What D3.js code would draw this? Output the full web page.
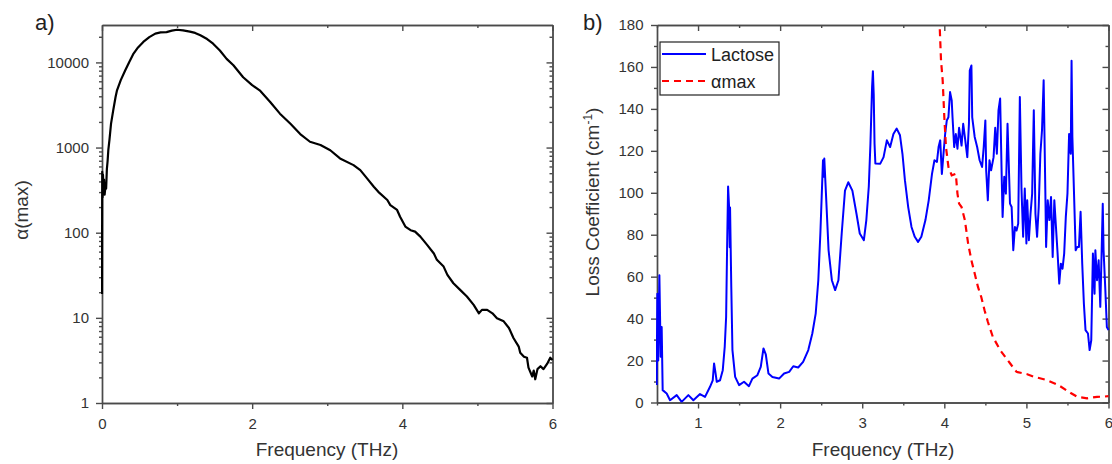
<!DOCTYPE html>
<meta charset="utf-8">
<head>
    <title></title>
    <script src="https://cdnjs.cloudflare.com/ajax/libs/d3/7.8.5/d3.min.js"></script>
</head>

<style>
    body{ margin:0; background:#fff; }
    text{ font-family: Arial, "Liberation Sans", sans-serif; }
</style>
<svg width="1112" height="464"></svg>

<script>
    // ---- panel a) : alpha(max), log scale ----
    var aFreq = [0, 0.003, 0.008, 0.013, 0.02, 0.027, 0.035, 0.045, 0.055, 0.065,
                 0.075, 0.084, 0.1, 0.12, 0.15, 0.18, 0.2, 0.25, 0.31, 0.36,
                 0.42, 0.48, 0.55, 0.63, 0.71, 0.78, 0.86, 0.93, 1.0, 1.08,
                 1.17, 1.24, 1.31, 1.4, 1.48, 1.57, 1.66, 1.75, 1.88, 2.0,
                 2.1, 2.24, 2.37, 2.51, 2.64, 2.77, 2.91, 3.04, 3.17, 3.35,
                 3.44, 3.53, 3.62, 3.68, 3.8, 3.84, 3.93, 3.97, 4.04, 4.11,
                 4.17, 4.24, 4.33, 4.42, 4.46, 4.55, 4.6, 4.68, 4.77, 4.86,
                 4.95, 5.02, 5.06, 5.13, 5.2, 5.26, 5.35, 5.42, 5.48, 5.55,
                 5.57, 5.62, 5.66, 5.68, 5.73, 5.75, 5.77, 5.8, 5.84, 5.88,
                 5.93, 5.97, 6.0];
    var aMax  = [19, 520, 260, 480, 300, 420, 280, 340, 330, 560,
                 700, 930, 1250, 1900, 2750, 3900, 4700, 6200, 8100, 10000,
                 12700, 15000, 17400, 19800, 21800, 22500, 22700, 23600, 24200, 23800,
                 23000, 22200, 20800, 18800, 16600, 13800, 11000, 9250, 6700, 5400,
                 4700, 3435, 2500, 1900, 1440, 1170, 1070, 930, 745, 622,
                 543, 434, 347, 302, 242, 211, 185, 154, 118, 107,
                 103, 90, 72, 57, 48, 40, 32, 25.5, 21.3, 17.8,
                 14.2, 11.3, 12.4, 12.4, 11.3, 9.9, 9.1, 7.6, 5.8, 4.6,
                 3.9, 3.5, 3.4, 2.6, 2.05, 2.4, 1.9, 2.5, 2.7, 2.5,
                 2.9, 3.4, 3.2];
    var aTicksX = [0, 2, 4, 6],
        aMinorX = [1, 3, 5],
        aTicksY = [1, 10, 100, 1000, 10000];

    // ---- panel b) : loss coefficient ----
    var lacFreq = [0.496, 0.504, 0.515, 0.529, 0.545, 0.557, 0.569, 0.618, 0.659, 0.74,
                   0.80, 0.882, 0.943, 1.024, 1.085, 1.146, 1.179, 1.195, 1.211, 1.228,
                   1.268, 1.301, 1.325, 1.342, 1.354, 1.366, 1.378, 1.386, 1.39, 1.405,
                   1.419, 1.452, 1.5, 1.56, 1.62, 1.662, 1.723, 1.764, 1.797, 1.825,
                   1.858, 1.906, 1.987, 2.048, 2.11, 2.16, 2.22, 2.28, 2.343, 2.392,
                   2.433, 2.465, 2.49, 2.506, 2.522, 2.53, 2.538, 2.558, 2.59, 2.63,
                   2.67, 2.71, 2.75, 2.79, 2.83, 2.88, 2.93, 2.97, 3.02, 3.05,
                   3.08, 3.10, 3.12, 3.13, 3.14, 3.15, 3.16, 3.22, 3.26, 3.30,
                   3.34, 3.38, 3.42, 3.46, 3.49, 3.52, 3.56, 3.60, 3.64, 3.68,
                   3.72, 3.77, 3.81, 3.85, 3.88, 3.91, 3.93, 3.95, 3.97, 3.99,
                   4.01, 4.03, 4.05, 4.07, 4.09, 4.10, 4.12, 4.14, 4.16, 4.18,
                   4.21, 4.23, 4.25, 4.28, 4.30, 4.31, 4.33, 4.34, 4.37, 4.40,
                   4.43, 4.46, 4.48, 4.50, 4.51, 4.53, 4.55, 4.57, 4.60, 4.62,
                   4.64, 4.66, 4.68, 4.70, 4.71, 4.73, 4.75, 4.77, 4.80, 4.82,
                   4.84, 4.86, 4.88, 4.90, 4.92, 4.94, 4.96, 4.98, 5.00, 5.01,
                   5.03, 5.05, 5.07, 5.09, 5.11, 5.13, 5.15, 5.17, 5.19, 5.21,
                   5.23, 5.24, 5.26, 5.28, 5.30, 5.32, 5.34, 5.36, 5.38, 5.40,
                   5.42, 5.44, 5.46, 5.48, 5.50, 5.52, 5.54, 5.55, 5.56, 5.58,
                   5.60, 5.62, 5.64, 5.66, 5.68, 5.70, 5.72, 5.75, 5.77, 5.79,
                   5.81, 5.83, 5.84, 5.86, 5.88, 5.90, 5.91, 5.93, 5.94, 5.96,
                   5.98, 6.0];
    var lacLoss = [8.3, 51.9, 20, 60.7, 21.8, 36, 5.9, 4.3, 1.1, 3.5,
                   0.3, 3.5, 1.1, 4, 2.7, 7.5, 10.6, 18.6, 14.6, 9.9,
                   10.6, 15.4, 26.5, 40.8, 74, 103, 93.3, 74, 93, 55,
                   25, 12.2, 8.3, 9.9, 7.8, 11.4, 13, 17, 25.8, 23,
                   13.8, 12.2, 11.4, 13.8, 14.6, 17.3, 16.7, 19.4, 25, 32.9,
                   42.4, 58.3, 80.6, 98, 115.5, 107.6, 116.3, 99.7, 72.6, 58.3,
                   53.6, 58.3, 80.6, 101, 105, 101, 90, 80.6, 77.4, 87,
                   103, 123.4, 150.4, 158, 147, 123.4, 114, 113.9, 117, 125,
                   121.8, 128, 130.6, 127.4, 118.6, 106, 93.2, 83.7, 79, 76.6,
                   79, 87, 96.4, 109, 115.5, 114.7, 121.8, 125, 109, 118.6,
                   128, 134.5, 136, 148, 144, 136, 121.8, 128, 121, 131,
                   122.5, 132.9, 126.6, 117, 132.9, 158.3, 160.7, 136, 126.6, 121.8,
                   115.5, 112.3, 121.8, 134.5, 110.7, 96.4, 115.5, 110.7, 117, 131,
                   118.6, 139.3, 144.9, 106, 88.5, 107.6, 99.6, 132.9, 94.8, 93.2,
                   72.6, 83.7, 82, 85.3, 145.7, 102, 79, 102, 75.8, 96.4,
                   77.4, 90, 99.6, 139.3, 90, 79, 93.2, 118.6, 129.8, 153.6,
                   102, 74.2, 96.4, 87, 98, 69.4, 96.4, 83.7, 71, 56.7,
                   66.2, 63.8, 71, 88.5, 99.6, 128, 118.6, 163, 126.6, 99.6,
                   72.6, 74.2, 74.2, 90.9, 66.2, 47.2, 34.5, 32.9, 25, 29.7,
                   71, 51.9, 72.6, 58.3, 67.8, 45.6, 61.5, 94.8, 72.6, 55,
                   36, 34.5];
    var amFreq = [3.945, 3.96, 3.98, 4.00, 4.02, 4.05, 4.09, 4.14, 4.16, 4.18,
                  4.21, 4.25, 4.29, 4.33, 4.37, 4.41, 4.45, 4.49, 4.53, 4.59,
                  4.68, 4.80, 4.88, 5.01, 5.09, 5.25, 5.39, 5.54, 5.62, 5.74,
                  5.86, 5.94, 6.0];
    var amLoss = [178, 163, 153.6, 136, 121.8, 112.3, 108.3, 109, 99.6, 94.8,
                  93.2, 87, 75.8, 67.8, 61.5, 55.1, 50.3, 44, 38.5, 31.4,
                  25, 18.7, 14.6, 13.5, 12.3, 10.7, 8.3, 4.5, 2.7, 2,
                  2.7, 2.8, 3];
    var bTicksX = [1, 2, 3, 4, 5, 6],
        bMinorX = [0.5, 1.5, 2.5, 3.5, 4.5, 5.5],
        bTicksY = [0, 20, 40, 60, 80, 100, 120, 140, 160, 180],
        bMinorY = [10, 30, 50, 70, 90, 110, 130, 150, 170];

    var axisColor = '#4a4a4a',
        textColor = '#333';

    var svg = d3.select('svg');
    var defs = svg.append('defs');

    function styleAxis(sel){
        sel.selectAll('path, line').attr('stroke', axisColor).attr('stroke-width', 1.4);
        sel.selectAll('text').attr('font-size', 15).attr('fill', textColor)
            .attr('font-family', 'Arial, "Liberation Sans", sans-serif');
    }

    // draws the boxed frame: labelled bottom/left axes, mirrored top/right with inward ticks
    function frame(x, y, xt, xm, yt, ym, fmt, pad){
        var x0 = x.range()[0], x1 = x.range()[1],
            y0 = y.range()[0], y1 = y.range()[1];

        svg.append('g').attr('transform', 'translate(0,' + y0 + ')')
            .call(d3.axisBottom(x).tickValues(xm).tickSize(3).tickSizeOuter(0).tickFormat(''))
            .call(styleAxis);
        svg.append('g').attr('transform', 'translate(0,' + y0 + ')')
            .call(d3.axisBottom(x).tickValues(xt).tickSize(6).tickSizeOuter(0).tickPadding(9).tickFormat(d3.format('d')))
            .call(styleAxis);

        svg.append('g').attr('transform', 'translate(' + x0 + ',0)')
            .call(d3.axisLeft(y).tickValues(ym).tickSize(3).tickSizeOuter(0).tickFormat(''))
            .call(styleAxis);
        svg.append('g').attr('transform', 'translate(' + x0 + ',0)')
            .call(d3.axisLeft(y).tickValues(yt).tickSize(6).tickSizeOuter(0).tickPadding(pad).tickFormat(fmt))
            .call(styleAxis);

        svg.append('g').attr('transform', 'translate(0,' + y1 + ')')
            .call(d3.axisTop(x).tickValues(xm).tickSize(-3).tickSizeOuter(0).tickFormat(''))
            .call(styleAxis);
        svg.append('g').attr('transform', 'translate(0,' + y1 + ')')
            .call(d3.axisTop(x).tickValues(xt).tickSize(-6).tickSizeOuter(0).tickFormat(''))
            .call(styleAxis);

        svg.append('g').attr('transform', 'translate(' + x1 + ',0)')
            .call(d3.axisRight(y).tickValues(ym).tickSize(-3).tickSizeOuter(0).tickFormat(''))
            .call(styleAxis);
        svg.append('g').attr('transform', 'translate(' + x1 + ',0)')
            .call(d3.axisRight(y).tickValues(yt).tickSize(-6).tickSizeOuter(0).tickFormat(''))
            .call(styleAxis);
    }

    function clip(id, x, y){
        defs.append('clipPath').attr('id', id).append('rect')
            .attr('x', x.range()[0] - 1).attr('y', y.range()[1])
            .attr('width', x.range()[1] - x.range()[0] + 2)
            .attr('height', y.range()[0] - y.range()[1]);
    }

    // ---------- panel a ----------
    var xA = d3.scaleLinear().domain([0, 6]).range([102, 552.5]),
        yA = d3.scaleLog().domain([1, 27500]).range([403, 25]);

    var aMinorY = [];
    aTicksY.forEach(function(t){
        for(var k = 2; k < 10; k++){ if(t * k < yA.domain()[1]) aMinorY.push(t * k); }
    });

    frame(xA, yA, aTicksX, aMinorX, aTicksY, aMinorY, d3.format('d'), 7);

    clip('clipA', xA, yA);
    var lineA = d3.line().x(function(d, i){ return xA(aFreq[i]); }).y(function(d){ return yA(d); });
    svg.append('path').datum(aMax)
        .attr('clip-path', 'url(#clipA)')
        .attr('d', lineA)
        .attr('fill', 'none').attr('stroke', '#000').attr('stroke-width', 2.2)
        .attr('stroke-linejoin', 'round');

    svg.append('text').attr('x', 327).attr('y', 456).attr('text-anchor', 'middle')
        .attr('font-size', 19).attr('fill', textColor).text('Frequency (THz)');
    svg.append('text').attr('transform', 'translate(28,210) rotate(-90)').attr('text-anchor', 'middle')
        .attr('font-size', 19).attr('fill', textColor).text('α(max)');
    svg.append('text').attr('x', 35).attr('y', 30).attr('font-size', 22).attr('fill', '#222').text('a)');

    // ---------- panel b ----------
    var xB = d3.scaleLinear().domain([0.5, 6]).range([657, 1108.5]),
        yB = d3.scaleLinear().domain([0, 180]).range([402.5, 25]);

    frame(xB, yB, bTicksX, bMinorX, bTicksY, bMinorY, d3.format('d'), 7.5);

    clip('clipB', xB, yB);
    var lineLac = d3.line().x(function(d, i){ return xB(lacFreq[i]); }).y(function(d){ return yB(d); });
    var lineAm = d3.line().x(function(d, i){ return xB(amFreq[i]); }).y(function(d){ return yB(d); });

    svg.append('path').datum(lacLoss)
        .attr('clip-path', 'url(#clipB)')
        .attr('d', lineLac)
        .attr('fill', 'none').attr('stroke', '#0000ff').attr('stroke-width', 2)
        .attr('stroke-linejoin', 'round');
    svg.append('path').datum(amLoss)
        .attr('clip-path', 'url(#clipB)')
        .attr('d', lineAm)
        .attr('fill', 'none').attr('stroke', '#ff0000').attr('stroke-width', 2.2)
        .attr('stroke-dasharray', '7,5');

    svg.append('text').attr('x', 883).attr('y', 456).attr('text-anchor', 'middle')
        .attr('font-size', 19).attr('fill', textColor).text('Frequency (THz)');
    var yl = svg.append('text').attr('transform', 'translate(599,202) rotate(-90)').attr('text-anchor', 'middle')
        .attr('font-size', 19).attr('fill', textColor);
    yl.append('tspan').text('Loss Coefficient (cm');
    yl.append('tspan').attr('dy', -7).attr('font-size', 12).text('-1');
    yl.append('tspan').attr('dy', 7).text(')');
    svg.append('text').attr('x', 583).attr('y', 30).attr('font-size', 22).attr('fill', '#222').text('b)');

    // legend
    var lg = svg.append('g');
    lg.append('rect').attr('x', 660).attr('y', 42).attr('width', 119).attr('height', 53)
        .attr('fill', '#fff').attr('stroke', '#222').attr('stroke-width', 1.2);
    lg.append('line').attr('x1', 662).attr('x2', 706).attr('y1', 54).attr('y2', 54)
        .attr('stroke', '#0000ff').attr('stroke-width', 2);
    lg.append('line').attr('x1', 662).attr('x2', 706).attr('y1', 81).attr('y2', 81)
        .attr('stroke', '#ff0000').attr('stroke-width', 2.2).attr('stroke-dasharray', '7,5');
    lg.append('text').attr('x', 711).attr('y', 61).attr('font-size', 18).attr('fill', '#222').text('Lactose');
    lg.append('text').attr('x', 711).attr('y', 88).attr('font-size', 18).attr('fill', '#222').text('αmax');
</script>
